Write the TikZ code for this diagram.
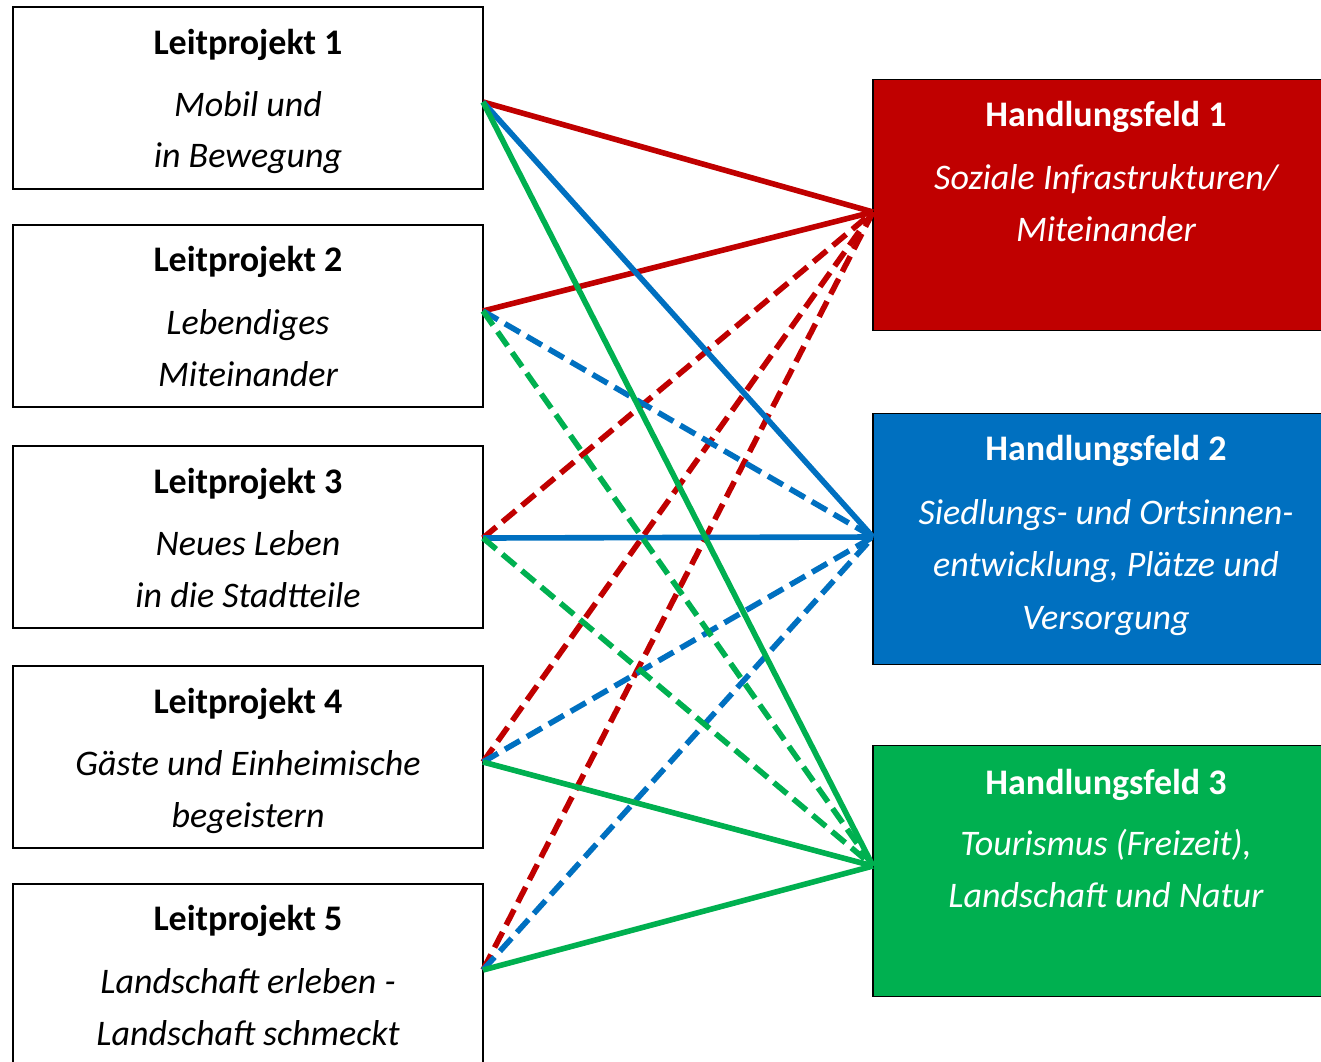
\documentclass[tikz,border=0pt]{standalone}
\usepackage{fontspec}
\setmainfont{Carlito}
\definecolor{hfred}{HTML}{C00000}
\definecolor{hfblue}{HTML}{0070C0}
\definecolor{hfgreen}{HTML}{00B050}
\begin{document}
\begin{tikzpicture}[x=0.75pt,y=-0.75pt,
  lpbox/.style={draw=black,line width=1.5pt,fill=white,minimum width=352.5pt,minimum height=136.5pt,inner sep=0pt},
  hfbox/.style={draw=black,line width=1pt,minimum width=339pt,minimum height=188.5pt,inner sep=0pt},
  ttl/.style={font=\fontsize{27}{30}\selectfont\bfseries,anchor=base,inner sep=0pt},
  sub/.style={font=\fontsize{27}{30}\selectfont\itshape,anchor=base,inner sep=0pt},
  wt/.style={text=white},
  link/.style={line width=4.2pt},
  dsh/.style={dash pattern=on 13pt off 6pt},
]
\useasboundingbox (0,0) rectangle (1321,1061);
% left boxes
\node[lpbox] (lp1) at (248,98) {};
\node[lpbox] (lp2) at (248,315.5) {};
\node[lpbox] (lp3) at (248,537) {};
\node[lpbox] (lp4) at (248,756.5) {};
\node[lpbox] (lp5) at (248,975) {};
% right boxes
\node[hfbox,fill=hfred] (hf1) at (1099,205) {};
\node[hfbox,fill=hfblue] (hf2) at (1099,539) {};
\node[hfbox,fill=hfgreen] (hf3) at (1099,871) {};
% anchor points
\coordinate (a1) at (483,102);
\coordinate (a2) at (483,311);
\coordinate (a3) at (483,538);
\coordinate (a4) at (483,762);
\coordinate (a5) at (483,970);
\coordinate (b1) at (873,212);
\coordinate (b2) at (873,537);
\coordinate (b3) at (873,866);
% connectors
\draw[link,hfred] (a1) -- (b1);
\draw[link,hfred] (a2) -- (b1);
\draw[link,hfred,dsh] (a3) -- (b1);
\draw[link,hfred,dsh] (a4) -- (b1);
\draw[link,hfred,dsh] (a5) -- (b1);
\draw[link,hfblue] (a1) -- (b2);
\draw[link,hfblue,dsh] (a2) -- (b2);
\draw[link,hfblue] (a3) -- (b2);
\draw[link,hfblue,dsh] (a4) -- (b2);
\draw[link,hfblue,dsh] (a5) -- (b2);
\draw[link,hfgreen] (a1) -- (b3);
\draw[link,hfgreen,dsh] (a2) -- (b3);
\draw[link,hfgreen,dsh] (a3) -- (b3);
\draw[link,hfgreen] (a4) -- (b3);
\draw[link,hfgreen] (a5) -- (b3);
% left texts
\node[ttl] (lp1t) at (248,54) {Leitprojekt 1};
\node[sub] (lp1s) at (248,116) {Mobil und};
\node[sub] (lp1u) at (248,167) {in Bewegung};
\node[ttl] (lp2t) at (248,271) {Leitprojekt 2};
\node[sub] (lp2s) at (248,334) {Lebendiges};
\node[sub] (lp2u) at (248,386) {Miteinander};
\node[ttl] (lp3t) at (248,493) {Leitprojekt 3};
\node[sub] (lp3s) at (248,555) {Neues Leben};
\node[sub] (lp3u) at (248,607) {in die Stadtteile};
\node[ttl] (lp4t) at (248,713) {Leitprojekt 4};
\node[sub] (lp4s) at (248,775) {Gäste und Einheimische};
\node[sub] (lp4u) at (248,827) {begeistern};
\node[ttl] (lp5t) at (248,930) {Leitprojekt 5};
\node[sub] (lp5s) at (248,993) {Landschaft erleben -};
\node[sub] (lp5u) at (248,1045) {Landschaft schmeckt};
% right texts
\node[ttl,wt] (hf1t) at (1106,126) {Handlungsfeld 1};
\node[sub,wt] (hf1s) at (1106,189) {Soziale Infrastrukturen/};
\node[sub,wt] (hf1u) at (1106,241) {Miteinander};
\node[ttl,wt] (hf2t) at (1106,460) {Handlungsfeld 2};
\node[sub,wt] (hf2s) at (1106,524) {Siedlungs- und Ortsinnen-};
\node[sub,wt] (hf2u) at (1106,576) {entwicklung, Plätze und};
\node[sub,wt] (hf2v) at (1106,629) {Versorgung};
\node[ttl,wt] (hf3t) at (1106,794) {Handlungsfeld 3};
\node[sub,wt] (hf3s) at (1106,855) {Tourismus (Freizeit),};
\node[sub,wt] (hf3u) at (1106,907) {Landschaft und Natur};
\end{tikzpicture}
\end{document}
